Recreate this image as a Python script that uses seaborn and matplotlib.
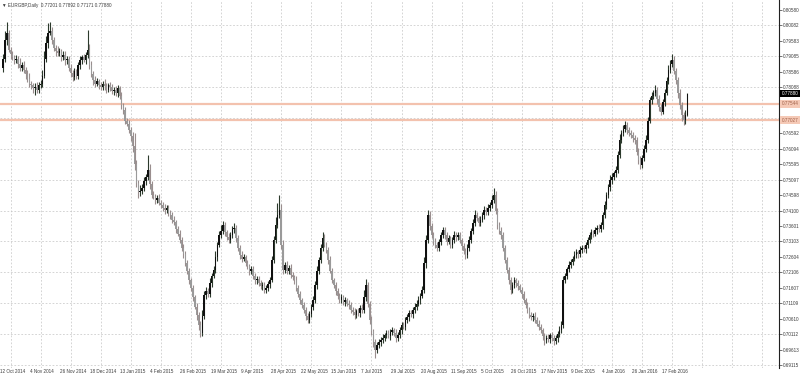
import numpy as np
import pandas as pd
import matplotlib
matplotlib.use("Agg")
import matplotlib.pyplot as plt
import matplotlib.transforms as mtransforms
import seaborn as sns

# ---------------- data ----------------
chart_title = "\u25BC EURGBP,Daily  0.77201 0.77892 0.77171 0.77880"

date_labels = ["12 Oct 2014", "4 Nov 2014", "26 Nov 2014", "18 Dec 2014", "13 Jan 2015",
               "4 Feb 2015", "26 Feb 2015", "19 Mar 2015", "9 Apr 2015", "28 Apr 2015",
               "22 May 2015", "15 Jun 2015", "7 Jul 2015", "29 Jul 2015", "20 Aug 2015",
               "11 Sep 2015", "5 Oct 2015", "26 Oct 2015", "17 Nov 2015", "9 Dec 2015",
               "4 Jan 2016", "26 Jan 2016", "17 Feb 2016"]

price_ticks = [0.80580, 0.80082, 0.79583, 0.79085, 0.78586, 0.78088, 0.77589, 0.77091,
               0.76592, 0.76094, 0.75595, 0.75097, 0.74598, 0.74100, 0.73601, 0.73103,
               0.72604, 0.72106, 0.71607, 0.71109, 0.70610, 0.70112, 0.69613, 0.69115]

first_open_pips = 7870
closes_pips = [
    7900, 7960, 7985, 7930, 7915, 7905, 7895, 7900, 7885, 7870, 7880, 7865, 7850, 7835, 7820, 7815, 7805, 7810, 7800, 7815,
    7820, 7845, 7900, 7950, 7985, 7990, 7960, 7935, 7925, 7918, 7925, 7905, 7912, 7895, 7900, 7870, 7855, 7840, 7860, 7845,
    7880, 7895, 7905, 7898, 7913, 7929, 7880, 7850, 7832, 7820, 7828, 7815, 7809, 7820, 7812, 7800, 7815, 7808, 7795, 7800,
    7790, 7805, 7780, 7750, 7735, 7700, 7690, 7672, 7650, 7620, 7560, 7500, 7470, 7475, 7483, 7505, 7520, 7541, 7495, 7460,
    7455, 7445, 7450, 7435, 7428, 7420, 7412, 7418, 7402, 7396, 7380, 7372, 7350, 7335, 7315, 7290, 7270, 7242, 7215, 7186,
    7160, 7130, 7100, 7073, 7040, 7015, 7070, 7137, 7150, 7140, 7175, 7200, 7218, 7260, 7300, 7331, 7345, 7364, 7340, 7325,
    7315, 7330, 7350, 7354, 7320, 7290, 7267, 7255, 7260, 7241, 7230, 7215, 7220, 7200, 7186, 7190, 7175, 7165, 7170, 7154,
    7160, 7172, 7186, 7250, 7315, 7365, 7396, 7412, 7300, 7218, 7235, 7215, 7225, 7202, 7195, 7186, 7160, 7140, 7120, 7105,
    7090, 7070, 7057, 7075, 7100, 7121, 7170, 7215, 7250, 7290, 7322, 7300, 7283, 7250, 7215, 7186, 7170, 7150, 7135, 7121,
    7130, 7115, 7120, 7110, 7105, 7090, 7082, 7073, 7085, 7078, 7095, 7089, 7130, 7170, 7110, 7057, 7020, 6985, 6960, 6975,
    6985, 6992, 7000, 7008, 7015, 7005, 7018, 7024, 7015, 7000, 7008, 7025, 7040, 7035, 7057, 7065, 7080, 7075, 7089, 7100,
    7110, 7121, 7135, 7154, 7240, 7315, 7396, 7360, 7331, 7310, 7300, 7289, 7310, 7330, 7347, 7330, 7310, 7320, 7299, 7315,
    7331, 7325, 7330, 7315, 7295, 7280, 7267, 7290, 7315, 7345, 7370, 7396, 7385, 7370, 7380, 7395, 7412, 7405, 7420, 7428,
    7445, 7460, 7410, 7364, 7345, 7331, 7290, 7250, 7218, 7185, 7154, 7170, 7186, 7175, 7165, 7154, 7140, 7120, 7105, 7090,
    7073, 7065, 7070, 7057, 7045, 7035, 7024, 7005, 6992, 7000, 6995, 7008, 7000, 6990, 6998, 7010, 7024, 7040, 7186, 7200,
    7220, 7234, 7245, 7255, 7267, 7275, 7270, 7283, 7290, 7285, 7299, 7315, 7331, 7340, 7335, 7347, 7355, 7350, 7364, 7395,
    7428, 7460, 7485, 7509, 7520, 7530, 7541, 7590, 7638, 7660, 7675, 7687, 7670, 7660, 7655, 7645, 7638, 7600, 7575, 7557,
    7580, 7610, 7638, 7700, 7767, 7780, 7790, 7800, 7770, 7745, 7730, 7760, 7790, 7830, 7865, 7885, 7896, 7860, 7832, 7790,
    7751, 7720, 7703, 7720, 7788,
]
upper_wick_pips = [
    15, 30, 34, 10, 10, 12, 8, 14, 10, 18, 9, 12, 8, 15, 20, 10, 8, 12, 15, 9,
    12, 20, 25, 25, 30, 29, 14, 12, 9, 16, 10, 8, 12, 15, 9, 11, 14, 10, 12, 8,
    10, 15, 9, 12, 8, 66, 20, 12, 10, 14, 9, 8, 12, 10, 16, 9, 8, 11, 10, 9,
    12, 10, 9, 14, 8, 11, 10, 12, 9, 15, 40, 12, 10, 18, 14, 12, 9, 49, 20, 10,
    12, 9, 10, 14, 8, 10, 12, 9, 11, 10, 8, 12, 9, 10, 14, 9, 11, 8, 10, 9,
    8, 10, 9, 12, 10, 15, 20, 12, 14, 10, 16, 9, 12, 18, 10, 14, 20, 12, 10, 9,
    14, 12, 10, 15, 8, 10, 9, 12, 10, 8, 11, 9, 10, 12, 8, 10, 9, 12, 10, 9,
    10, 12, 9, 15, 12, 25, 40, 48, 20, 14, 10, 12, 9, 11, 10, 8, 12, 9, 10, 8,
    9, 10, 8, 12, 10, 14, 12, 15, 10, 12, 18, 14, 10, 9, 12, 10, 8, 11, 9, 10,
    12, 9, 10, 8, 11, 9, 10, 12, 8, 10, 9, 14, 25, 18, 10, 9, 12, 8, 10, 12,
    9, 10, 12, 8, 10, 9, 11, 10, 8, 12, 9, 10, 11, 9, 10, 12, 8, 10, 9, 11,
    10, 12, 9, 14, 20, 15, 16, 12, 10, 9, 12, 10, 8, 11, 10, 9, 12, 10, 8, 11,
    12, 9, 10, 11, 8, 10, 9, 12, 14, 10, 12, 15, 10, 9, 12, 10, 14, 9, 12, 10,
    15, 23, 12, 10, 9, 12, 10, 8, 11, 10, 12, 9, 10, 8, 11, 9, 10, 12, 8, 10,
    9, 10, 8, 11, 9, 12, 10, 8, 10, 9, 12, 8, 10, 9, 11, 10, 12, 14, 12, 10,
    9, 12, 10, 8, 11, 10, 9, 12, 10, 8, 11, 9, 10, 12, 9, 10, 8, 11, 10, 12,
    14, 10, 12, 15, 10, 9, 12, 14, 18, 12, 10, 14, 9, 10, 12, 8, 10, 9, 12, 10,
    11, 12, 15, 14, 10, 12, 9, 15, 10, 12, 10, 9, 12, 10, 14, 12, 20, 12, 10, 9,
    12, 10, 9, 14, 1,
]
lower_wick_pips = [
    12, 10, 15, 9, 14, 10, 12, 8, 15, 10, 9, 12, 14, 8, 10, 12, 15, 20, 9, 10,
    10, 12, 8, 10, 14, 9, 12, 10, 15, 8, 10, 12, 9, 14, 10, 8, 12, 10, 9, 11,
    9, 12, 10, 8, 14, 10, 12, 9, 15, 10, 8, 12, 10, 9, 14, 10, 8, 12, 9, 10,
    10, 12, 9, 11, 14, 10, 8, 12, 15, 20, 18, 15, 20, 12, 10, 9, 12, 10, 14, 10,
    9, 12, 10, 8, 11, 10, 12, 9, 10, 14, 9, 10, 12, 8, 10, 9, 12, 10, 11, 12,
    10, 12, 9, 15, 14, 12, 10, 9, 12, 10, 8, 11, 9, 10, 12, 8, 10, 9, 12, 10,
    9, 10, 8, 12, 10, 9, 12, 10, 8, 11, 10, 12, 9, 10, 12, 14, 10, 9, 12, 10,
    9, 10, 12, 8, 10, 9, 12, 10, 14, 12, 10, 9, 11, 10, 8, 12, 10, 9, 12, 10,
    12, 14, 10, 9, 8, 10, 9, 12, 10, 8, 11, 9, 10, 12, 8, 10, 9, 11, 12, 10,
    9, 10, 12, 8, 14, 10, 9, 12, 10, 8, 11, 10, 9, 12, 10, 14, 12, 15, 25, 10,
    10, 12, 9, 11, 10, 8, 12, 9, 10, 14, 10, 9, 12, 8, 10, 9, 11, 10, 12, 9,
    10, 9, 12, 8, 10, 14, 10, 12, 9, 10, 12, 8, 11, 10, 9, 12, 10, 8, 11, 9,
    10, 12, 9, 8, 11, 10, 14, 9, 10, 8, 12, 10, 9, 11, 10, 8, 12, 9, 10, 11,
    9, 10, 12, 14, 10, 12, 9, 10, 8, 11, 12, 10, 9, 12, 10, 8, 11, 9, 10, 12,
    10, 9, 12, 10, 8, 11, 10, 12, 15, 10, 9, 12, 10, 14, 10, 12, 9, 10, 8, 10,
    12, 9, 10, 11, 8, 10, 12, 9, 10, 8, 11, 10, 9, 12, 10, 8, 11, 9, 10, 12,
    10, 12, 9, 10, 14, 10, 12, 9, 10, 11, 9, 10, 12, 8, 10, 12, 14, 10, 15, 12,
    10, 9, 12, 10, 8, 11, 10, 9, 14, 12, 10, 9, 12, 8, 10, 9, 11, 10, 12, 15,
    14, 20, 18, 12, 3,
]
level_lines = [0.77544, 0.77027]
level_labels = ["0.77544", "0.77027"]
last_price = 0.77880
last_label = "0.77880"

# ---------------- frame ----------------
n = len(closes_pips)
close = np.array(closes_pips, dtype=float) / 10000.0
opn = np.concatenate([[first_open_pips], closes_pips[:-1]]).astype(float) / 10000.0
uw = np.array(upper_wick_pips[:n], dtype=float) / 10000.0
lw = np.array(lower_wick_pips[:n], dtype=float) / 10000.0
df = pd.DataFrame({"i": np.arange(n), "open": opn, "close": close})
df["high"] = np.maximum(df["open"], df["close"]) + uw
df["low"] = np.minimum(df["open"], df["close"]) - lw
df["bull"] = df["close"] >= df["open"]

# ---------------- style ----------------
sns.set_theme(style="white")
fam = ["Liberation Sans", "DejaVu Sans"]
plt.rcParams["font.family"] = fam
txt_color = "#3c3c3c"
fs = 3.3

fig = plt.figure(figsize=(8.0, 3.76), dpi=100)
ax = fig.add_axes([0.0, 8 / 376, 779 / 800, 368 / 376])
ax.set_facecolor("white")

ax.set_xlim(-1.6, 412.8)
ax.set_ylim(0.69017, 0.80903)

grid_kw = dict(color="#c4c4c4", lw=0.5, ls=(0, (2.5, 2.5)), zorder=0)
for k in range(27):
    gx = 4 + 16 * k
    if gx < 412:
        ax.axvline(gx, **grid_kw)
for j, t in enumerate(price_ticks):
    if j % 2 == 1:
        ax.axhline(t, **grid_kw)

# horizontal level lines
for lv in level_lines:
    ax.axhline(lv, color="#f3c2ae", lw=1.6, zorder=1)

# candles
bull = df[df["bull"]]
bear = df[~df["bull"]]
ax.vlines(bear["i"], bear["low"], bear["high"], colors="#9a8e8e", lw=0.8, zorder=2)
ax.vlines(bull["i"], bull["low"], bull["high"], colors="#2c3a2c", lw=0.8, zorder=2)
min_h = 0.00014
ax.bar(bear["i"], np.maximum(bear["open"] - bear["close"], min_h), bottom=bear["close"],
       width=0.8, color="#9a9a9a", linewidth=0, zorder=3)
ax.bar(bull["i"], np.maximum(bull["close"] - bull["open"], min_h), bottom=bull["open"],
       width=0.8, color="#101010", linewidth=0, zorder=3)

# axes / spines
for s in ["top", "left", "bottom"]:
    ax.spines[s].set_visible(False)
ax.spines["right"].set_color("#202020")
ax.spines["right"].set_linewidth(0.8)
ax.yaxis.tick_right()
ax.set_yticks(price_ticks)
ax.set_yticklabels([f"{t:.5f}" for t in price_ticks])
ax.tick_params(axis="y", length=2, width=0.5, pad=1.0, labelsize=fs,
               colors=txt_color, direction="out")
ax.set_xticks([])
ax.grid(False)

# date labels
trans = mtransforms.blended_transform_factory(ax.transData, ax.transAxes)
for k, lab in enumerate(date_labels):
    ax.text(16 * k - 1.6, -0.004, lab, transform=trans, ha="left", va="top",
            fontsize=fs, color=txt_color, clip_on=False)

# price labels on the axis
ytrans = mtransforms.blended_transform_factory(ax.transAxes, ax.transData)
for lv, lab in zip(level_lines, level_labels):
    ax.text(1.0035, lv, lab, transform=ytrans, ha="left", va="center", fontsize=fs,
            color="#a06048", clip_on=False, zorder=5,
            bbox=dict(boxstyle="square,pad=0.3", fc="#f5c9b6", ec="none"))
ax.text(1.0035, last_price, last_label, transform=ytrans, ha="left", va="center",
        fontsize=fs, color="white", clip_on=False, zorder=6,
        bbox=dict(boxstyle="square,pad=0.3", fc="black", ec="none"))

# title
ax.text(0.003, 0.993, chart_title, transform=ax.transAxes, ha="left", va="top",
        fontsize=fs, color=txt_color, family=fam)

fig.savefig("out.png", dpi=100)
